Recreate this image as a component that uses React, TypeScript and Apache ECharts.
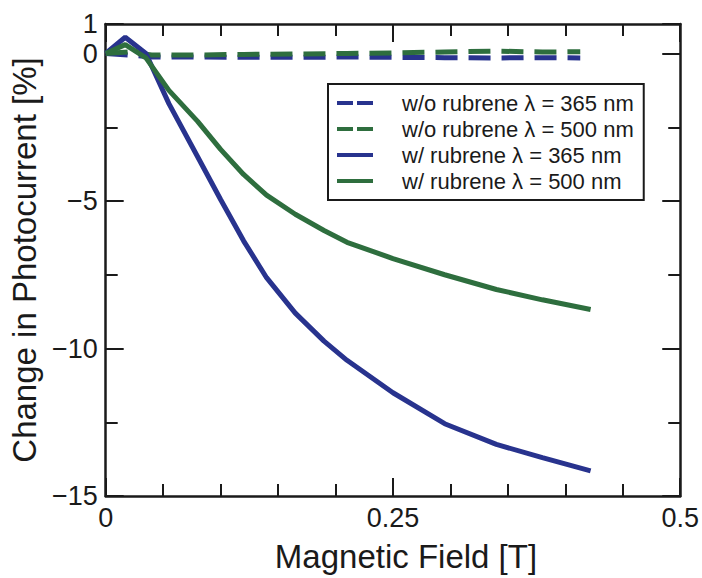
import React, { useEffect, useRef } from "react";
import * as echarts from "echarts";

// Magnetic field (T) and photocurrent change (%) for each measurement
const fieldWithRubrene = [0, 0.017, 0.035, 0.055, 0.08, 0.1, 0.12, 0.14, 0.165, 0.19, 0.21, 0.25, 0.295, 0.34, 0.38, 0.422];
const withRubrene365 = [0, 0.55, 0.0, -1.7, -3.5, -4.95, -6.35, -7.6, -8.8, -9.75, -10.4, -11.5, -12.55, -13.25, -13.7, -14.15];
const withRubrene500 = [0, 0.3, -0.15, -1.25, -2.3, -3.25, -4.1, -4.8, -5.45, -6.0, -6.4, -6.95, -7.5, -8.0, -8.35, -8.68];

const fieldWithoutRubrene = [0, 0.02, 0.04, 0.08, 0.12, 0.165, 0.21, 0.25, 0.295, 0.34, 0.38, 0.413];
const withoutRubrene365 = [0, -0.05, -0.12, -0.12, -0.13, -0.13, -0.12, -0.13, -0.14, -0.15, -0.14, -0.15];
const withoutRubrene500 = [0, 0.05, -0.05, -0.05, -0.03, -0.02, 0, 0.02, 0.05, 0.08, 0.05, 0.06];

const seriesNames = [
  "w/o rubrene λ = 365 nm",
  "w/o rubrene λ = 500 nm",
  "w/ rubrene λ = 365 nm",
  "w/ rubrene λ = 500 nm",
];

const BLUE = "#28338e";
const GREEN = "#2e6e3e";
const INK = "#1a1a1a";
const FONT = "'Liberation Sans', Arial, Helvetica, sans-serif";

// Legend keys: two short dashes, or one solid bar
const DASH_ICON = "path://M0,0 H16 V4 H0 Z M20,0 H36 V4 H20 Z";
const SOLID_ICON = "path://M0,0 H36 V4 H0 Z";

const pairs = (xs: number[], ys: number[]) => xs.map((x, i) => [x, ys[i]]);

const fmtY = (v: number) => (v < 0 ? "\u2212" + Math.abs(v) : String(v));

export default function App() {
  const ref = useRef<HTMLDivElement>(null);

  useEffect(() => {
    document.body.style.margin = "0";
    const chart = echarts.init(ref.current!, undefined, { renderer: "svg" });

    const axisLine = { show: true, onZero: false, lineStyle: { color: INK, width: 2.5 } };
    const majorTick = { show: true, inside: true, length: 18, lineStyle: { color: INK, width: 2 } };
    const minorTickStyle = { show: true, inside: true, length: 12, lineStyle: { color: INK, width: 2 } };

    const yBase = { type: "value" as const, min: -15, max: 1, splitLine: { show: false } };

    const line = (name: string, xs: number[], ys: number[], color: string, dashed: boolean) => ({
      name,
      type: "line",
      data: pairs(xs, ys),
      symbol: "none",
      showSymbol: false,
      color,
      lineStyle: { color, width: 5, type: dashed ? [22, 11] : "solid" },
    });

    chart.setOption({
      animation: false,
      backgroundColor: "#ffffff",
      textStyle: { fontFamily: FONT, color: INK },
      grid: { left: 105, right: 20, top: 24, bottom: 78, containLabel: false },
      legend: {
        orient: "vertical",
        left: 328,
        top: 84,
        padding: [8, 10, 8, 9],
        itemWidth: 36,
        itemHeight: 4,
        itemGap: 4,
        borderColor: INK,
        borderWidth: 2,
        backgroundColor: "#ffffff",
        textStyle: { fontSize: 22, color: INK, fontFamily: FONT, lineHeight: 22, padding: [0, 0, 0, 24] },
        data: [
          { name: seriesNames[0], icon: DASH_ICON },
          { name: seriesNames[1], icon: DASH_ICON },
          { name: seriesNames[2], icon: SOLID_ICON },
          { name: seriesNames[3], icon: SOLID_ICON },
        ],
      },
      xAxis: [
        {
          type: "value",
          position: "bottom",
          min: 0,
          max: 0.5,
          interval: 0.25,
          axisLine,
          axisTick: majorTick,
          minorTick: { ...minorTickStyle, splitNumber: 5 },
          axisLabel: { fontSize: 27, color: INK, margin: 8, fontFamily: FONT },
          splitLine: { show: false },
          name: "Magnetic Field [T]",
          nameLocation: "middle",
          nameGap: 44,
          nameTextStyle: { fontSize: 33, color: INK, fontFamily: FONT, padding: [0, 0, 0, 26] },
        },
        {
          type: "value",
          position: "top",
          min: 0,
          max: 0.5,
          interval: 0.25,
          axisLine,
          axisTick: majorTick,
          minorTick: { ...minorTickStyle, splitNumber: 5 },
          axisLabel: { show: false },
          splitLine: { show: false },
        },
      ],
      yAxis: [
        {
          ...yBase,
          position: "left",
          interval: 5,
          axisLine,
          axisTick: majorTick,
          axisLabel: { fontSize: 27, color: INK, margin: 8, fontFamily: FONT, formatter: fmtY },
          name: "Change in Photocurrent [%]",
          nameLocation: "middle",
          nameGap: 55,
          nameTextStyle: { fontSize: 33, color: INK, fontFamily: FONT },
        },
        {
          ...yBase,
          position: "left",
          interval: 2.5,
          axisLine: { show: false, onZero: false },
          axisTick: minorTickStyle,
          axisLabel: { show: false },
        },
        {
          ...yBase,
          position: "right",
          interval: 5,
          axisLine,
          axisTick: majorTick,
          axisLabel: { show: false },
        },
        {
          ...yBase,
          position: "right",
          interval: 2.5,
          axisLine: { show: false, onZero: false },
          axisTick: minorTickStyle,
          axisLabel: { show: false },
        },
      ],
      series: [
        line(seriesNames[0], fieldWithoutRubrene, withoutRubrene365, BLUE, true),
        line(seriesNames[1], fieldWithoutRubrene, withoutRubrene500, GREEN, true),
        line(seriesNames[2], fieldWithRubrene, withRubrene365, BLUE, false),
        line(seriesNames[3], fieldWithRubrene, withRubrene500, GREEN, false),
      ],
    });

    return () => chart.dispose();
  }, []);

  return <div ref={ref} style={{ width: 702, height: 578 }} />;
}
